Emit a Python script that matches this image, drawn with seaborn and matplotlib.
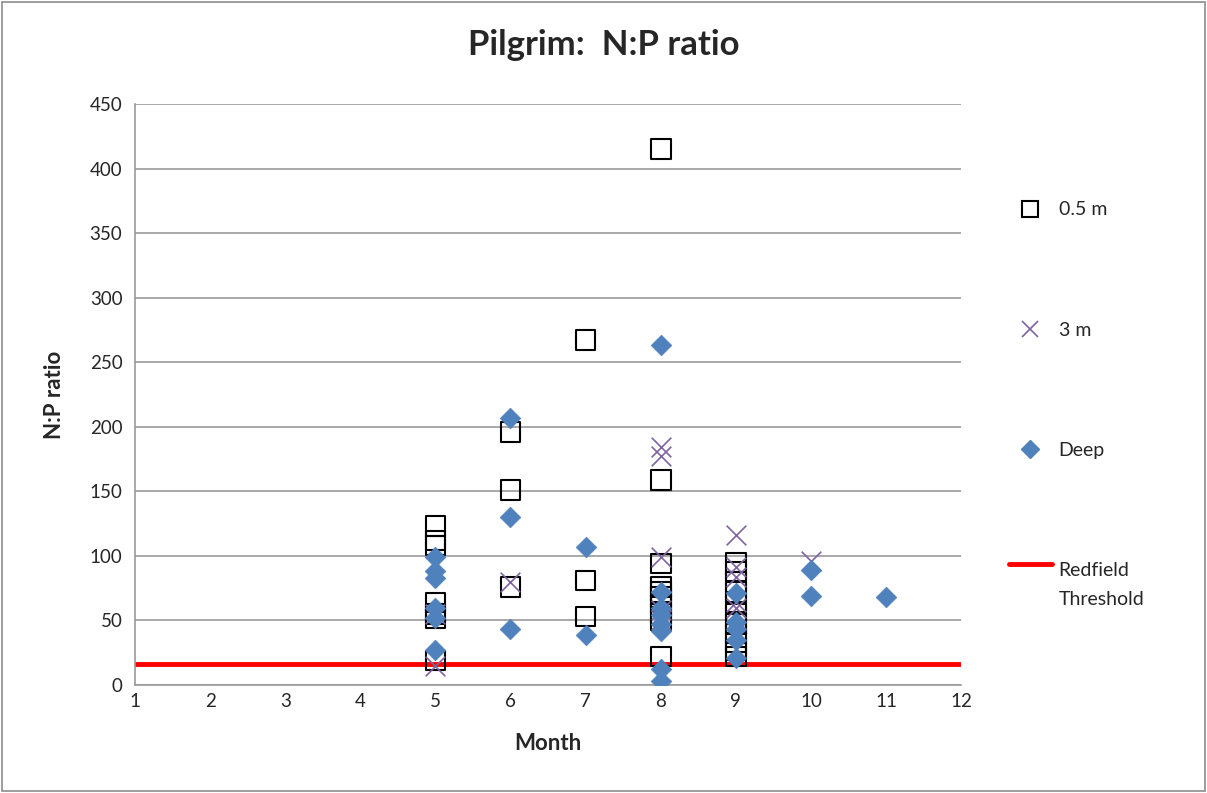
import matplotlib
matplotlib.use("Agg")
import matplotlib.pyplot as plt
import seaborn as sns
import pandas as pd
from matplotlib.lines import Line2D
from matplotlib.patches import Rectangle
from matplotlib.legend_handler import HandlerLine2D

# ---- data ----
surf_month = [5, 5, 5, 5, 5, 5, 5,
              6, 6, 6,
              7, 7, 7,
              8, 8, 8, 8, 8, 8, 8, 8, 8, 8,
              9, 9, 9, 9, 9, 9, 9, 9, 9, 9, 9]
surf_val = [123, 112, 108, 64, 55, 52, 19,
            196, 151, 76,
            267, 81, 53,
            415, 159, 94, 76, 72, 68, 62, 55, 50, 22,
            95, 88, 80, 72, 64, 55, 47, 40, 33, 27, 22]

mid_month = [5, 5, 6, 8, 8, 8, 8, 8, 8, 9, 9, 9, 9, 9, 10]
mid_val = [15, 55, 80, 184, 177, 99, 65, 58, 50, 116, 91, 84, 64, 60, 96]

deep_month = [5, 5, 5, 5, 5, 5,
              6, 6, 6,
              7, 7,
              8, 8, 8, 8, 8, 8, 8, 8,
              9, 9, 9, 9, 9,
              10, 10, 11]
deep_val = [99, 88, 83, 60, 52, 27,
            207, 130, 43,
            107, 39,
            263, 72, 60, 54, 47, 42, 12, 3,
            71, 49, 43, 35, 21,
            89, 69, 68]

redfield = 16
x_ticks = list(range(1, 13))
y_ticks = list(range(0, 451, 50))


class TopLineHandler(HandlerLine2D):
    """Draw the legend line level with the first line of a two-line label."""
    def create_artists(self, legend, orig_handle, xdescent, ydescent,
                       width, height, fontsize, trans):
        arts = super().create_artists(legend, orig_handle, xdescent, ydescent,
                                      width, height, fontsize, trans)
        for a in arts:
            if isinstance(a, Line2D):
                yd = a.get_ydata()
                a.set_ydata([y + 1.05 * fontsize for y in yd])
        return arts


# ---- plot ----
sns.set_style("white")
plt.rcParams['font.family'] = ['Lato', 'DejaVu Sans']

fig = plt.figure(figsize=(12.07, 7.93), dpi=100)
ax = fig.add_axes([0.1118, 0.1362, 0.6845, 0.7327])

ax.axhline(redfield, color="#FF0000", lw=3.5, zorder=1)

df_s = pd.DataFrame({"Month": surf_month, "ratio": surf_val})
df_m = pd.DataFrame({"Month": mid_month, "ratio": mid_val})
df_d = pd.DataFrame({"Month": deep_month, "ratio": deep_val})

sns.scatterplot(data=df_s, x="Month", y="ratio", ax=ax, marker="s", s=200,
                facecolor="none", edgecolor="black", linewidth=1.5, zorder=3)
sns.scatterplot(data=df_m, x="Month", y="ratio", ax=ax, marker="x", s=200,
                color="#8064A2", linewidth=1.2, zorder=4)
sns.scatterplot(data=df_d, x="Month", y="ratio", ax=ax, marker="D", s=110,
                color="#4F81BD", edgecolor="#4F81BD", linewidth=0.5, zorder=5)

ax.set_xlim(1, 12)
ax.set_ylim(0, 450)
ax.set_xticks(x_ticks)
ax.set_yticks(y_ticks)
ax.grid(axis="y", color="#9A9A9A", lw=1.2)
ax.set_axisbelow(True)
for side in ["top", "right"]:
    ax.spines[side].set_visible(False)
for side in ["left", "bottom"]:
    ax.spines[side].set_color("#9A9A9A")
    ax.spines[side].set_linewidth(1.2)
ax.tick_params(axis="both", which="both", direction="out", length=5,
               color="#9A9A9A", labelsize=13.5, width=1.2)
ax.tick_params(axis="x", pad=1)
ax.tick_params(axis="y", pad=4)

ax.set_xlabel("Month", fontsize=16, fontweight="bold", labelpad=16)
ax.set_ylabel("N:P ratio", fontsize=16, fontweight="bold", labelpad=18)
fig.text(0.5, 0.943, "Pilgrim:  N:P ratio", ha="center", va="center",
         fontsize=25, fontweight="bold")

handles = [
    Line2D([], [], marker="s", ls="none", markersize=12, markerfacecolor="none",
           markeredgecolor="black", markeredgewidth=1.5),
    Line2D([], [], marker="x", ls="none", markersize=12, color="#8064A2",
           markeredgewidth=1.2),
    Line2D([], [], marker="D", ls="none", markersize=9, color="#4F81BD"),
    Line2D([], [], color="#FF0000", lw=3.5),
]
labels = ["0.5 m", "3 m", "Deep", "Redfield\nThreshold"]
leg = fig.legend(handles, labels, loc="upper left", bbox_to_anchor=(0.8214, 0.768),
                 frameon=False, fontsize=14, labelspacing=5.3, handlelength=2.2,
                 handletextpad=0.35, handler_map={handles[3]: TopLineHandler()})
leg.get_texts()[3].set_linespacing(1.85)

fig.patches.append(Rectangle((0.002, 0.003), 0.996, 0.994, transform=fig.transFigure,
                             fill=False, edgecolor="#8C8C8C", lw=1.2))

fig.savefig("out.png", dpi=100)
